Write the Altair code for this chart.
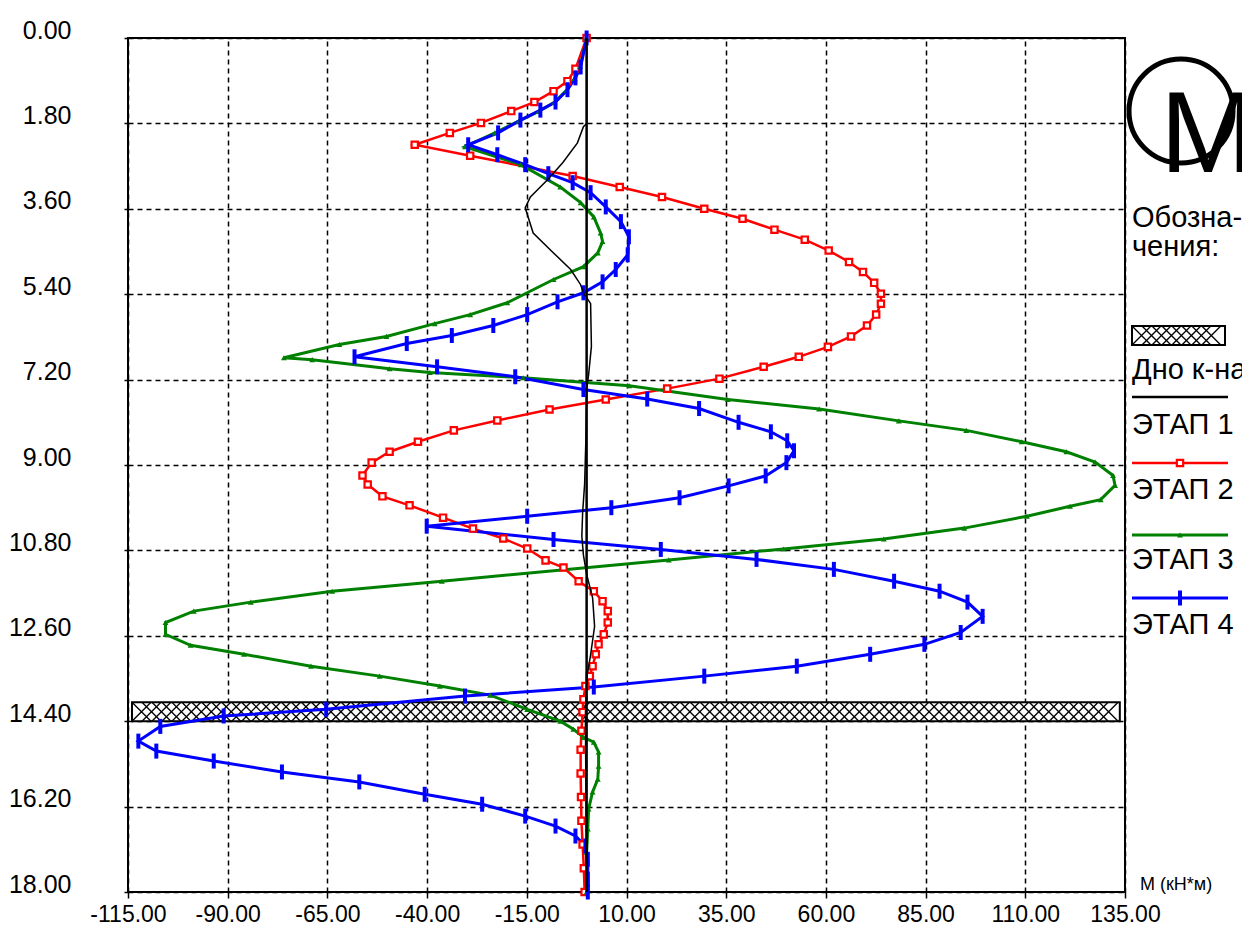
import altair as alt
import pandas as pd
import numpy as np

# ---------------- data (depth d in m, moment v in kN*m) ----------------
stage1_d = [0.0, 1.80, 1.87, 2.21, 2.63, 2.99, 3.35, 3.58, 4.11, 4.53, 4.88, 5.20, 5.37,
            5.60, 6.50, 7.10, 7.40, 8.50, 9.40, 10.00, 10.50, 10.90, 11.30, 11.80, 12.40,
            13.00, 13.50, 14.40, 18.00]
stage1_v = [0.0, 0.0, -0.8, -2.3, -6.0, -9.8, -14.1, -15.4, -13.4, -8.3, -4.0, -1.5, -0.8,
            1.0, 1.2, 0.5, 0.0, -0.2, -0.5, -1.0, -1.2, -0.8, 0.0, 1.5, 2.0,
            1.0, 0.0, -0.3, 0.0]

stage2_d = [0.0, 0.65, 0.91, 1.12, 1.35, 1.54, 1.79, 2.00, 2.25, 2.48, 2.91, 3.14, 3.35,
            3.60, 3.81, 4.04, 4.25, 4.48, 4.72, 4.93, 5.16, 5.39, 5.60, 5.83, 6.06, 6.29,
            6.51, 6.72, 6.93, 7.18, 7.39, 7.62, 7.83, 8.06, 8.27, 8.51, 8.72, 8.95, 9.22,
            9.41, 9.66, 9.85, 10.11, 10.34, 10.55, 10.76, 11.01, 11.16, 11.45, 11.66,
            11.87, 12.08, 12.32, 12.57, 12.78, 12.99, 13.24, 13.45, 13.66, 13.94, 14.21,
            14.60, 15.00, 15.50, 16.00, 16.50, 17.00, 17.50, 18.00]
stage2_v = [0.0, -2.8, -4.8, -8.3, -13.1, -18.9, -26.5, -34.3, -43.1, -29.2, -3.5, 8.3, 18.9,
            29.5, 39.1, 47.1, 54.7, 60.7, 65.8, 69.3, 72.1, 73.8, 73.8, 72.6, 70.3, 66.3,
            60.5, 53.2, 44.4, 33.3, 20.2, 4.8, -9.3, -22.4, -33.3, -42.3, -49.4, -53.9, -56.2,
            -54.9, -51.2, -44.4, -36.0, -28.5, -20.9, -14.9, -10.3, -5.8, -2.0, 1.8,
            4.0, 5.3, 5.3, 4.3, 3.0, 2.3, 1.5, 0.8, -0.3, -0.8, -1.0,
            -1.3, -1.5, -1.5, -1.4, -1.3, -1.0, -0.7, -0.5]

stage3_d = [0.0, 0.60, 0.85, 1.10, 1.35, 1.55, 1.75, 2.00, 2.29, 2.67, 3.14, 3.47, 3.77,
            4.11, 4.29, 4.53, 4.82, 5.09, 5.58, 5.83, 6.02, 6.29, 6.46, 6.74, 6.78, 6.97,
            7.05, 7.16, 7.33, 7.62, 7.82, 8.07, 8.27, 8.51, 8.72, 8.94, 9.22, 9.43, 9.73,
            9.87, 10.08, 10.33, 10.56, 10.77, 11.00, 11.45, 11.66, 11.89, 12.08, 12.32,
            12.57, 12.80, 12.99, 13.24, 13.45, 13.66, 13.85, 14.15, 14.40, 14.57, 14.74,
            14.84, 15.05, 15.35, 15.62, 15.89, 16.25, 16.67, 17.16, 18.00]
stage3_v = [0.0, -1.6, -3.0, -5.0, -8.0, -12.0, -17.0, -23.0, -30.5, -16.5, -6.6, -1.5, 1.8,
            3.5, 4.0, 2.8, -0.8, -8.3, -19.9, -29.2, -38.1, -50.2, -62.0, -75.9, -68.8, -49.4,
            -39.3, -15.9, 10.7, 35.4, 58.3, 78.3, 95.2, 109.1, 120.3, 127.5, 132.0, 132.5, 128.9,
            121.2, 110.4, 94.7, 74.5, 49.4, 20.6, -36.3, -63.8, -84.2, -98.5, -105.6,
            -105.6, -99.3, -85.9, -69.1, -51.9, -36.8, -24.2, -14.9, -6.6, -3.3, -0.8,
            1.8, 3.0, 3.0, 2.8, 1.5, 0.5, 0.3, 0.0, 0.0]

stage4_d = [0.0, 0.61, 0.84, 1.09, 1.35, 1.52, 1.73, 2.00, 2.25, 2.46, 2.67, 2.86, 3.05,
            3.26, 3.56, 3.87, 4.19, 4.57, 4.88, 5.14, 5.37, 5.56, 5.83, 6.06, 6.27, 6.44,
            6.72, 6.93, 7.14, 7.41, 7.61, 7.81, 8.10, 8.30, 8.49, 8.70, 8.95, 9.23, 9.44,
            9.69, 9.90, 10.08, 10.29, 10.57, 10.78, 10.99, 11.20, 11.45, 11.66, 11.89,
            12.19, 12.53, 12.78, 12.99, 13.24, 13.45, 13.68, 13.87, 14.15, 14.29, 14.51,
            14.82, 15.03, 15.24, 15.47, 15.68, 15.94, 16.15, 16.40, 16.61, 16.82, 17.03,
            17.31, 17.73, 18.00]
stage4_v = [0.0, -1.5, -2.8, -4.8, -7.8, -11.6, -16.6, -22.2, -29.7, -22.4, -15.4, -9.6, -3.5,
            1.0, 4.8, 8.6, 10.6, 10.3, 7.3, 4.0, -0.8, -7.3, -14.9, -23.4, -33.8, -45.1,
            -58.2, -37.5, -17.9, -0.8, 15.2, 28.2, 38.1, 46.2, 50.3, 52.0, 50.1, 44.9, 35.6,
            23.3, 6.2, -14.9, -40.1, -8.3, 18.6, 42.6, 62.0, 77.1, 88.5, 95.5,
            99.3, 93.8, 84.7, 71.1, 52.7, 29.5, 1.8, -30.5, -65.3, -91.0, -106.9,
            -112.4, -107.9, -93.5, -76.4, -57.0, -40.6, -26.2, -15.4, -7.8, -2.8, -0.3,
            0.3, 0.3, 0.3]

# channel bottom band ("Дно к-на")
band_top, band_bottom = 14.0, 14.4
band_left, band_right = -114.0, 133.7

x_ticks = [-115, -90, -65, -40, -15, 10, 35, 60, 85, 110, 135]
y_ticks = [0.0, 1.8, 3.6, 5.4, 7.2, 9.0, 10.8, 12.6, 14.4, 16.2, 18.0]

legend_title = ["Обозна-", "чения:"]
legend_labels = ["Дно к-на", "ЭТАП  1", "ЭТАП  2", "ЭТАП  3", "ЭТАП  4"]
axis_unit = "M (кН*м)"
big_letter = "M"

# ---------------- layout ----------------
W, H = 997, 854
PADL, PADT = 120, 30
X0 = 128  # page px of plot left
Y0 = 38   # page px of plot top
XMIN, XMAX = -115, 135
YMIN, YMAX = 0, 18

def px2x(px):
    return XMIN + (px - X0) / W * (XMAX - XMIN)

def px2y(py):
    return YMIN + (py - Y0) / H * (YMAX - YMIN)

xs = alt.Scale(domain=[XMIN, XMAX], nice=False, zero=False)
ys = alt.Scale(domain=[YMIN, YMAX], nice=False, zero=False, reverse=True)

FONT = "Liberation Sans, Arial, sans-serif"

def series_df(d, v):
    return pd.DataFrame({"d": d, "v": v})

s1 = series_df(stage1_d, stage1_v)
s2 = series_df(stage2_d, stage2_v)
s3 = series_df(stage3_d, stage3_v)
s4 = series_df(stage4_d, stage4_v)

def line(df, color, width):
    return alt.Chart(df).mark_line(color=color, strokeWidth=width, clip=False).encode(
        x=alt.X("v:Q", scale=xs),
        y=alt.Y("d:Q", scale=ys),
        order="d:Q",
    )

# hatch band
hatch_w = px2x(X0 + 19) - px2x(X0)  # 45 deg over band height
hx = np.arange(band_left, band_right - hatch_w, 2.5)
hatch = pd.DataFrame({
    "x1": np.concatenate([hx, hx]),
    "x2": np.concatenate([hx + hatch_w, hx + hatch_w]),
    "y1": [band_bottom] * len(hx) + [band_top] * len(hx),
    "y2": [band_top] * len(hx) + [band_bottom] * len(hx),
})
band = pd.DataFrame({"x1": [band_left], "x2": [band_right], "y1": [band_top], "y2": [band_bottom]})

# legend swatch hatch (in scale coordinates, outside the domain)
lb_l, lb_r, lb_t, lb_b = px2x(1132), px2x(1225), px2y(326), px2y(345)
lw = px2x(X0 + 19) - px2x(X0)
lhx = np.arange(lb_l, lb_r - lw * 0.999, 2.5)
lhatch = pd.DataFrame({
    "x1": np.concatenate([lhx, lhx]),
    "x2": np.concatenate([lhx + lw, lhx + lw]),
    "y1": [lb_b] * len(lhx) + [lb_t] * len(lhx),
    "y2": [lb_t] * len(lhx) + [lb_b] * len(lhx),
})
lband = pd.DataFrame({"x1": [lb_l], "x2": [lb_r], "y1": [lb_t], "y2": [lb_b]})

base_axes = alt.Chart(pd.DataFrame({"v": [XMIN, XMAX], "d": [YMIN, YMAX]})).mark_point(opacity=0).encode(
    x=alt.X("v:Q", scale=xs, title=None,
            axis=alt.Axis(values=x_ticks, format=".2f", labelExpr="replace(datum.label, '\u2212', '-')",
                          grid=True, gridDash=[5, 4], gridColor="black", gridWidth=1.5, gridOpacity=1,
                          domain=False, ticks=True, tickSize=6, tickColor="black", tickWidth=1.5,
                          labelFontSize=23, labelFont=FONT, labelColor="black", labelPadding=5,
                          labelFlush=False, labelOverlap=False)),
    y=alt.Y("d:Q", scale=ys, title=None,
            axis=alt.Axis(values=y_ticks, format=".2f",
                          grid=True, gridDash=[5, 4], gridColor="black", gridWidth=1.5, gridOpacity=1,
                          domain=False, ticks=True, tickSize=4, tickColor="black", tickWidth=1.5,
                          labelFontSize=25, labelFont=FONT, labelColor="black", labelPadding=53,
                          labelOffset=-8, labelFlush=False, labelOverlap=False)),
)

band_rect = alt.Chart(band).mark_rect(fill="white", stroke="black", strokeWidth=2).encode(
    x=alt.X("x1:Q", scale=xs), x2="x2", y=alt.Y("y1:Q", scale=ys), y2="y2")
hatch_rules = alt.Chart(hatch).mark_rule(color="black", strokeWidth=1.3).encode(
    x=alt.X("x1:Q", scale=xs), x2="x2", y=alt.Y("y1:Q", scale=ys), y2="y2")

l2 = line(s2, "#ff0000", 2.5)
l3 = line(s3, "#008000", 3)
l4 = line(s4, "#0000ff", 3)
l1 = line(s1, "black", 1.5)

p2 = alt.Chart(s2).mark_point(shape="square", size=40, filled=True, fill="white", stroke="#ff0000",
                              strokeWidth=2.2, opacity=1).encode(
    x=alt.X("v:Q", scale=xs), y=alt.Y("d:Q", scale=ys))
p3 = alt.Chart(s3).mark_point(shape="triangle-up", size=35, filled=True, color="#008000", opacity=1).encode(
    x=alt.X("v:Q", scale=xs), y=alt.Y("d:Q", scale=ys))
p4 = alt.Chart(s4).mark_point(shape="M0,-1L0,1", size=225, filled=False, color="#0000ff",
                              strokeWidth=4, opacity=1).encode(
    x=alt.X("v:Q", scale=xs), y=alt.Y("d:Q", scale=ys))

zero_line = alt.Chart(pd.DataFrame({"v": [0.0]})).mark_rule(color="black", strokeWidth=2.5).encode(
    x=alt.X("v:Q", scale=xs))

# ---------------- custom legend ----------------
def txt(s, px, py, size, align="left", baseline="middle"):
    return alt.Chart(pd.DataFrame({"t": [s]})).mark_text(
        font=FONT, fontSize=size, color="black", align=align, baseline=baseline, clip=False
    ).encode(text="t:N", x=alt.value(px - X0), y=alt.value(py - Y0))

def hline(py, color, width):
    return alt.Chart(pd.DataFrame({"a": [0]})).mark_rule(color=color, strokeWidth=width).encode(
        x=alt.value(1132 - X0), x2=alt.value(1228 - X0), y=alt.value(py - Y0))

def sym(py, **kw):
    return alt.Chart(pd.DataFrame({"a": [0]})).mark_point(opacity=1, **kw).encode(
        x=alt.value(1180 - X0), y=alt.value(py - Y0))

circle = alt.Chart(pd.DataFrame({"a": [0]})).mark_point(
    shape="circle", size=104 * 104, filled=False, color="black", strokeWidth=5, opacity=1, clip=False
).encode(x=alt.value(1181 - X0), y=alt.value(111 - Y0))

LF = 29
legend_layers = [
    circle,
    txt(big_letter, 1160, 172, 115, baseline="alphabetic"),
    txt(legend_title[0], 1132, 218, LF),
    txt(legend_title[1], 1132, 247, LF),
    alt.Chart(lband).mark_rect(fill="white", stroke="black", strokeWidth=2).encode(
        x=alt.X("x1:Q", scale=xs), x2="x2", y=alt.Y("y1:Q", scale=ys), y2="y2"),
    alt.Chart(lhatch).mark_rule(color="black", strokeWidth=1.3).encode(
        x=alt.X("x1:Q", scale=xs), x2="x2", y=alt.Y("y1:Q", scale=ys), y2="y2"),
    txt(legend_labels[0], 1132, 370, LF),
    hline(397, "black", 2.5),
    txt(legend_labels[1], 1132, 425, LF),
    hline(463, "#ff0000", 2.5),
    sym(463, shape="square", size=40, filled=True, fill="white", stroke="#ff0000", strokeWidth=2.2),
    txt(legend_labels[2], 1132, 490, LF),
    hline(535, "#008000", 3),
    sym(535, shape="triangle-up", size=35, filled=True, color="#008000"),
    txt(legend_labels[3], 1132, 560, LF),
    hline(598, "#0000ff", 3),
    sym(598, shape="M0,-1L0,1", size=225, filled=False, color="#0000ff", strokeWidth=4),
    txt(legend_labels[4], 1132, 625, LF),
    txt(axis_unit, 1140, 885, 18),
]

chart = alt.layer(
    base_axes, band_rect, hatch_rules, l2, l3, l4, p2, p3, p4, l1, zero_line, *legend_layers
).properties(
    width=W, height=H,
    autosize=alt.AutoSizeParams(type="none"),
    padding={"left": PADL, "top": PADT, "right": 1234 - PADL - W, "bottom": 40},
    background="white",
).configure_view(stroke="black", strokeWidth=2)

chart.save("out.html", embed_options={"renderer": "svg", "actions": False})
